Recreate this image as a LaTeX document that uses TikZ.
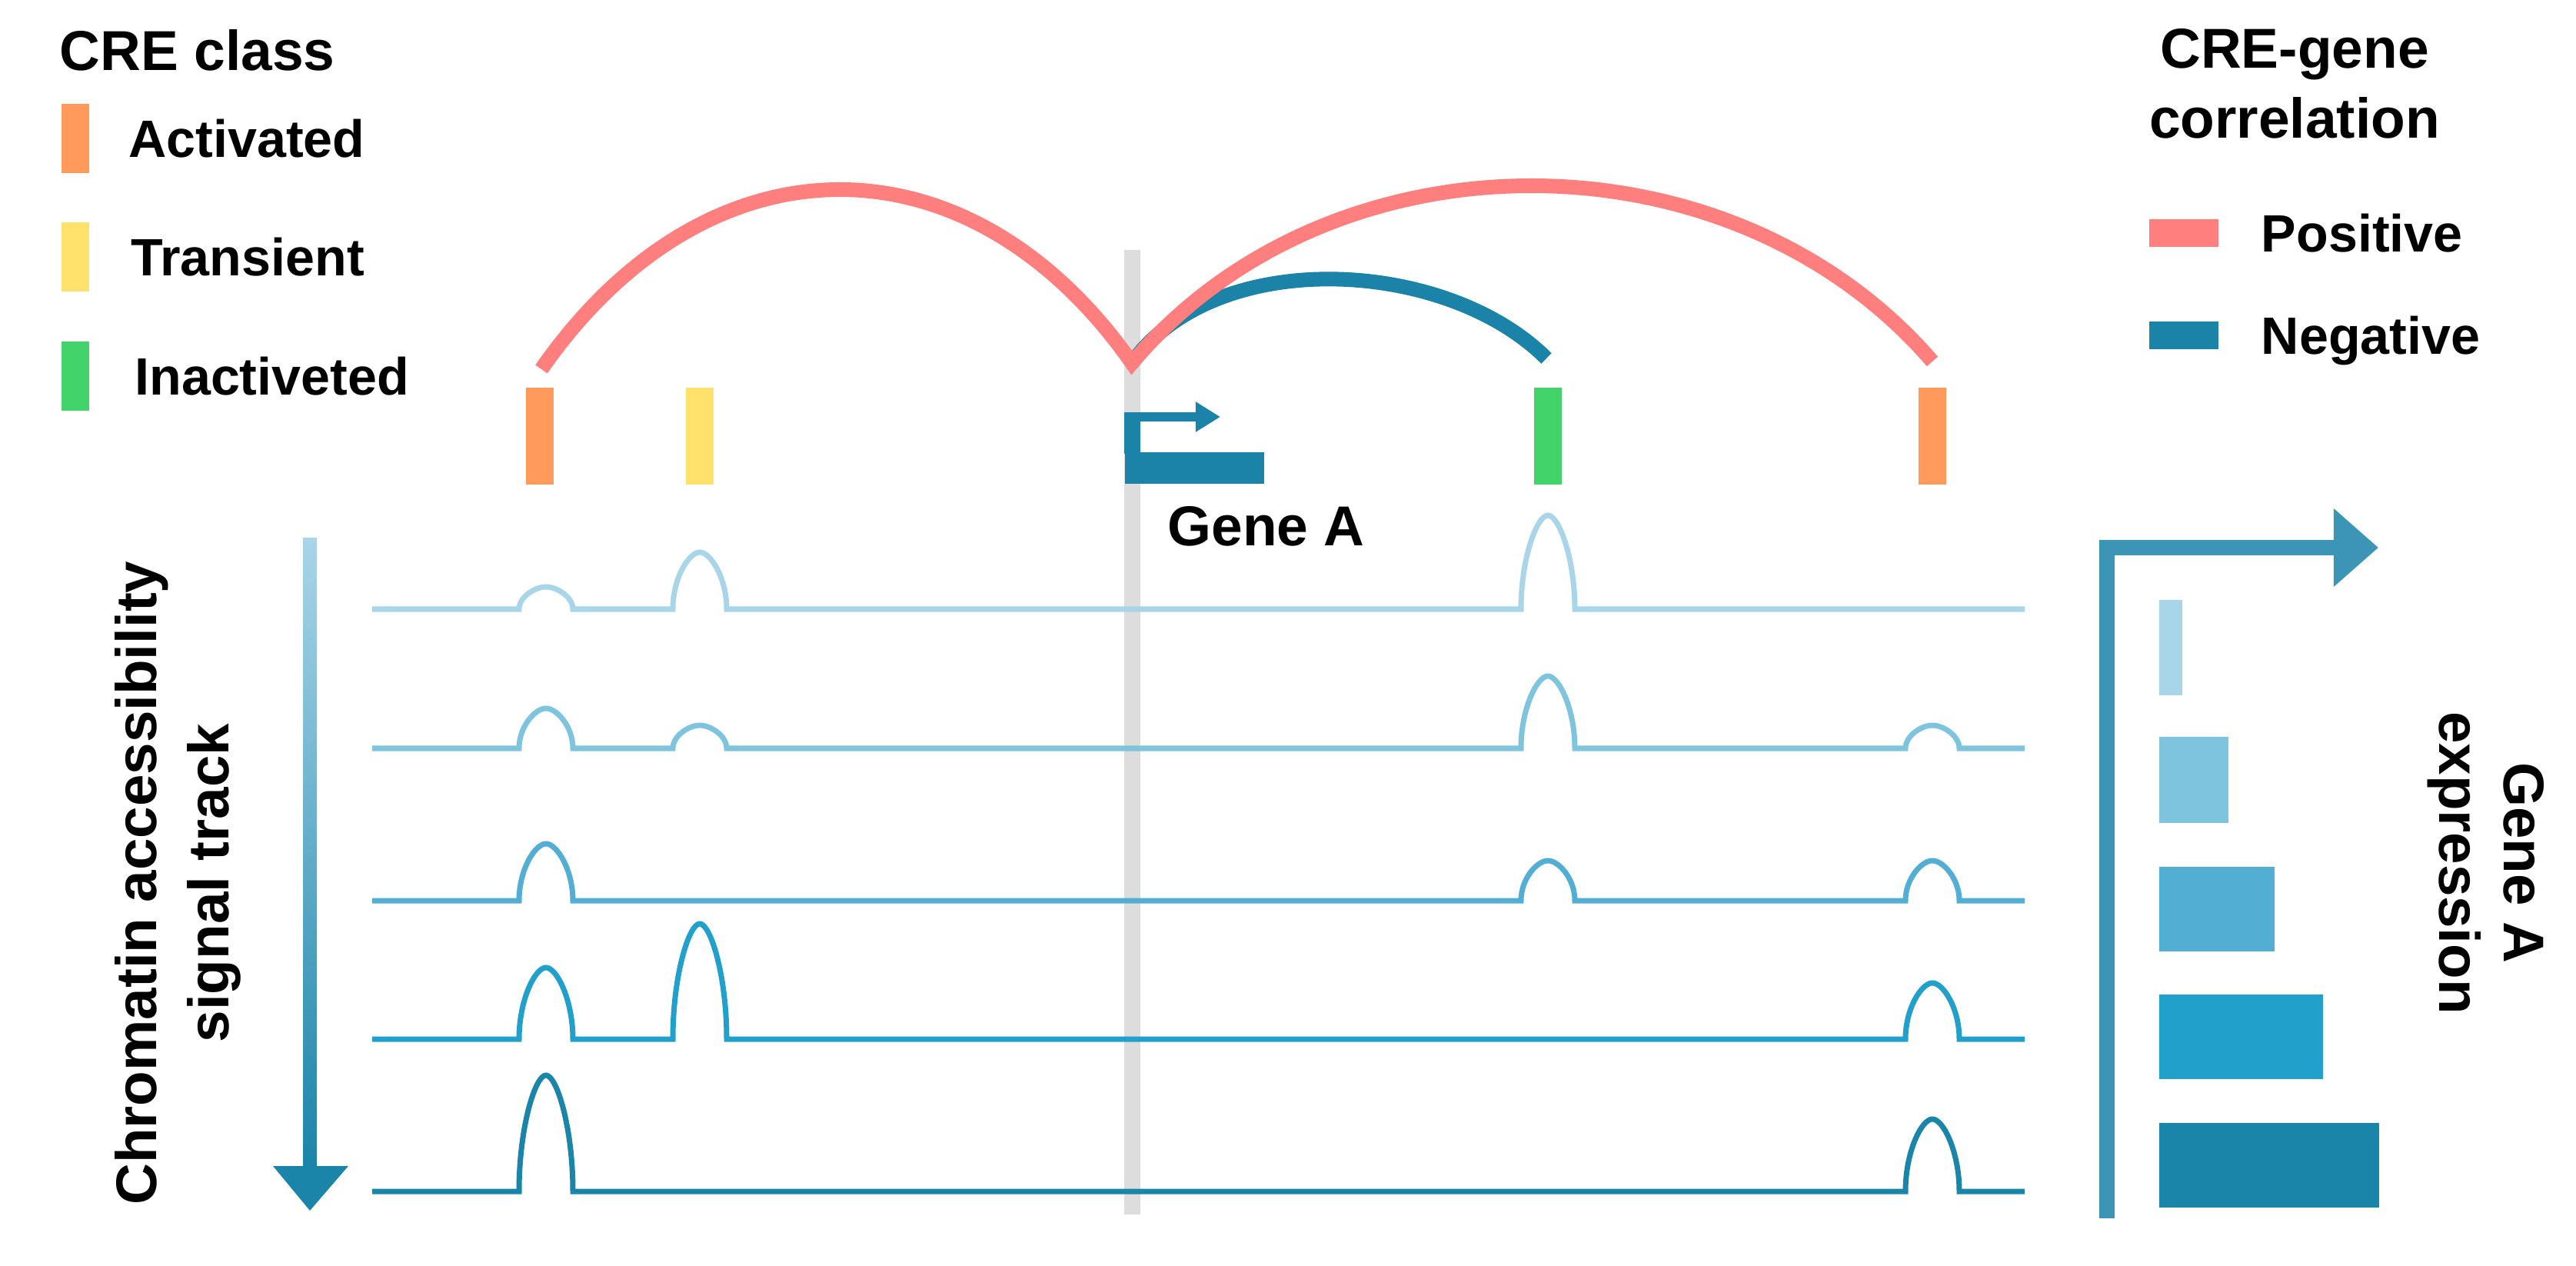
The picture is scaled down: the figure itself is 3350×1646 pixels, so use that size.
\documentclass[tikz,border=0pt]{standalone}
\usepackage{fontspec}
\setmainfont{Liberation Sans}
\usetikzlibrary{positioning,arrows.meta}

\definecolor{actorange}{HTML}{FF9A5C}
\definecolor{transyellow}{HTML}{FFE26C}
\definecolor{inactgreen}{HTML}{42D36B}
\definecolor{pospink}{HTML}{FF7F7F}
\definecolor{negblue}{HTML}{1B82A8}
\definecolor{genegray}{HTML}{DDDDDD}
\definecolor{axisblue}{HTML}{3D95B5}
\definecolor{lvlone}{HTML}{A8D5E8}
\definecolor{lvltwo}{HTML}{7EC4DE}
\definecolor{lvlthree}{HTML}{53AED3}
\definecolor{lvlfour}{HTML}{21A0CB}
\definecolor{lvlfive}{HTML}{1B84A9}

\tikzset{
  cre/.style={rectangle, inner sep=0pt, minimum width=0.36cm, minimum height=1.26cm},
  legbar/.style={rectangle, inner sep=0pt, minimum width=0.36cm, minimum height=0.9cm},
  corbar/.style={rectangle, inner sep=0pt, minimum width=0.89cm, minimum height=0.36cm},
  legtext/.style={inner sep=0pt, text depth=0pt, font=\fontsize{19.4}{23}\selectfont\bfseries},
  headtext/.style={inner sep=0pt, font=\fontsize{20.8}{25.9}\selectfont\bfseries},
  sidetext/.style={inner sep=0pt, align=center, font=\fontsize{21.2}{26.7}\selectfont\bfseries},
  link/.style={line width=0.19cm, line join=miter},
  track/.style={line width=0.07cm},
  exprbar/.style={rectangle, inner sep=0pt, anchor=west},
}

\newcommand\sigtrack[3]{%
  \draw[track, #2] (484,#1) \foreach \px/\ph in {#3} {
    -- (\px-35,#1) .. controls (\px-35,#1-0.55*\ph) and (\px-14,#1-\ph) .. (\px,#1-\ph)
    .. controls (\px+14,#1-\ph) and (\px+35,#1-0.55*\ph) .. (\px+35,#1)
  } -- (2633,#1);
}

\begin{document}
\begin{tikzpicture}[x=0.01cm, y=-0.01cm]
  \useasboundingbox (0,0) rectangle (3350,1646);

  % CRE class legend
  \node[headtext, anchor=base west] (creclass) at (77,92) {CRE class};
  \node[legbar, fill=actorange] (legact) at (98,180) {};
  \node[legbar, fill=transyellow] (legtra) at (98,334) {};
  \node[legbar, fill=inactgreen] (leginact) at (98,489) {};
  \node[legtext, right=0.5cm of legact] (actlabel) {Activated};
  \node[legtext, right=0.53cm of legtra] (tralabel) {Transient};
  \node[legtext, right=0.58cm of leginact] (inactlabel) {Inactiveted};

  % correlation legend
  \node[headtext, align=center, anchor=north] (corrhead) at (2984,37) {CRE-gene\\correlation};
  \node[corbar, fill=pospink] (legpos) at (2840,303) {};
  \node[corbar, fill=negblue] (legneg) at (2840,436) {};
  \node[legtext, right=0.55cm of legpos] (poslabel) {Positive};
  \node[legtext, right=0.55cm of legneg] (neglabel) {Negative};

  % gene locus
  \draw[genegray, line width=0.21cm] (1472,325) -- (1472,1579);
  \node[cre, fill=actorange] (cre1) at (702,567) {};
  \node[cre, fill=transyellow] (cre2) at (910,567) {};
  \node[cre, fill=inactgreen] (cre3) at (2013,567) {};
  \node[cre, fill=actorange] (cre4) at (2513,567) {};
  \fill[negblue] (1462,536) rectangle (1483,590);
  \draw[negblue, line width=0.12cm, -{Triangle[length=0.32cm,width=0.37cm]}] (1462,542) -- (1587,542);
  \node[rectangle, fill=negblue, inner sep=0pt, minimum width=1.81cm, minimum height=0.41cm, anchor=north west] (geneA) at (1462,587) {};
  \node[headtext, anchor=base west] (genename) at (1518,710) {Gene A};

  % links
  \coordinate (tss) at (1472,472);
  \coordinate (end1) at (704,480);
  \coordinate (end3) at (2011,466);
  \coordinate (end4) at (2513,470);
  \draw[link, negblue] (tss) .. controls (1580,320) and (1880,335) .. (end3);
  \draw[link, pospink] (end1) .. controls (920,170) and (1260,170) .. (tss)
    .. controls (1730,165) and (2250,165) .. (end4);

  % signal tracks
  \sigtrack{792}{lvlone}{710/29, 910/74, 2013/122}
  \sigtrack{973}{lvltwo}{710/52, 910/30, 2013/94, 2513/30}
  \sigtrack{1171}{lvlthree}{710/74, 2013/52, 2513/52}
  \sigtrack{1351}{lvlfour}{710/93, 910/150, 2513/73}
  \sigtrack{1549}{lvlfive}{710/151, 2513/94}

  % accessibility arrow
  \shade[top color=lvlone, middle color=lvlfour, bottom color=lvlfive] (394,700) rectangle (412,1518);
  \fill[lvlfive] (355,1516) -- (453,1516) -- (403,1574) -- cycle;
  \node[sidetext, rotate=90] (chromlabel) at (231,1148) {Chromatin accessibility\\signal track};

  % expression axis and bars
  \coordinate (exprorigin) at (2740,1584);
  \coordinate (exprcorner) at (2740,712);
  \coordinate (exprtip) at (3093,712);
  \draw[axisblue, line width=0.2cm, -{Triangle[length=0.58cm,width=0.98cm]}] (exprorigin) -- (exprcorner) -- (exprtip);
  \node[exprbar, fill=lvlone, minimum width=0.3cm, minimum height=1.24cm] (expr1) at (2807,842) {};
  \node[exprbar, fill=lvltwo, minimum width=0.9cm, minimum height=1.12cm] (expr2) at (2807,1014) {};
  \node[exprbar, fill=lvlthree, minimum width=1.5cm, minimum height=1.1cm] (expr3) at (2807,1182) {};
  \node[exprbar, fill=lvlfour, minimum width=2.13cm, minimum height=1.1cm] (expr4) at (2807,1348) {};
  \node[exprbar, fill=lvlfive, minimum width=2.86cm, minimum height=1.1cm] (expr5) at (2807,1515) {};
  \node[sidetext, rotate=-90, font=\fontsize{21.2}{24}\selectfont\bfseries] (exprlabel) at (3233,1122) {Gene A\\expression};
\end{tikzpicture}
\end{document}
